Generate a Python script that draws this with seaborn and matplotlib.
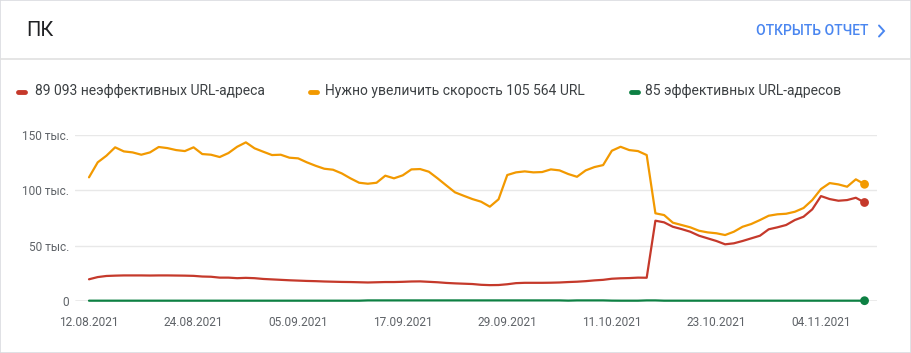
import numpy as np
import pandas as pd
import matplotlib
matplotlib.use("Agg")
import matplotlib.pyplot as plt
import matplotlib.dates as mdates
from matplotlib.lines import Line2D
from matplotlib.patches import Rectangle
import seaborn as sns

# ---------------- data (thousands of URLs) ----------------
start_date = "2021-08-12"
n_days = 90

poor = [19.5, 21.5, 22.5, 22.8, 23.0, 23.0, 23.0, 22.9, 23.0, 23.0,
        22.9, 22.8, 22.6, 22.0, 21.8, 21.0, 21.0, 20.5, 20.8, 20.5,
        19.8, 19.4, 19.0, 18.6, 18.3, 18.0, 17.8, 17.5, 17.3, 17.1,
        17.0, 16.8, 16.6, 16.8, 17.0, 17.0, 17.2, 17.5, 17.6, 17.2,
        16.8, 16.2, 15.8, 15.5, 15.2, 14.5, 14.2, 14.3, 15.0, 16.0,
        16.3, 16.3, 16.3, 16.4, 16.6, 17.0, 17.3, 17.8, 18.5, 19.0,
        20.0, 20.4, 20.6, 21.0, 20.9, 72.6, 71.1, 67.1, 65.0, 62.6,
        59.0, 56.6, 54.2, 51.2, 52.1, 54.2, 56.6, 59.0, 64.8, 66.6,
        68.7, 73.2, 76.2, 82.9, 94.9, 92.2, 90.7, 91.3, 93.4, 89.1]

needs_improvement = [111.9, 125.5, 131.5, 139.1, 135.4, 134.5, 132.4, 134.5, 139.4, 138.4,
                     136.6, 135.7, 139.1, 133.0, 132.4, 130.3, 133.9, 139.6, 143.6, 138.2,
                     135.1, 132.1, 132.4, 129.7, 129.1, 125.5, 122.4, 119.7, 118.8, 115.5,
                     111.0, 107.0, 106.1, 107.0, 113.4, 111.0, 113.7, 119.1, 119.4, 117.0,
                     111.0, 104.6, 98.3, 95.2, 92.2, 89.8, 85.3, 92.0, 114.0, 116.4,
                     117.3, 116.4, 116.7, 119.1, 118.2, 114.9, 112.4, 118.2, 121.2, 123.0,
                     136.0, 139.6, 136.6, 135.7, 132.1, 79.3, 77.7, 70.8, 68.7, 66.6,
                     63.5, 62.0, 61.2, 59.6, 62.6, 67.1, 69.6, 73.2, 77.1, 78.4,
                     78.9, 80.7, 84.1, 91.3, 101.3, 106.7, 105.5, 103.4, 110.1, 105.6]

good = [0.1, 0.1, 0.1, 0.1, 0.1, 0.1, 0.1, 0.1, 0.1, 0.1,
        0.1, 0.1, 0.1, 0.1, 0.1, 0.1, 0.1, 0.1, 0.1, 0.1,
        0.1, 0.1, 0.1, 0.1, 0.1, 0.1, 0.1, 0.1, 0.1, 0.1,
        0.1, 0.1, 0.35, 0.35, 0.35, 0.35, 0.35, 0.35, 0.35, 0.35,
        0.35, 0.35, 0.35, 0.35, 0.35, 0.35, 0.35, 0.35, 0.35, 0.35,
        0.35, 0.35, 0.35, 0.35, 0.35, 0.15, 0.35, 0.35, 0.35, 0.35,
        0.15, 0.1, 0.1, 0.1, 0.35, 0.35, 0.1, 0.1, 0.1, 0.1,
        0.1, 0.1, 0.1, 0.1, 0.1, 0.1, 0.1, 0.1, 0.1, 0.1,
        0.1, 0.1, 0.1, 0.1, 0.1, 0.1, 0.1, 0.1, 0.1, 0.085]

series_names = ["89 093 неэффективных URL-адреса",
                "Нужно увеличить скорость 105 564 URL",
                "85 эффективных URL-адресов"]
series_colors = ["#c5392b", "#f29900", "#0d8043"]

y_ticks = [0, 50, 100, 150]
y_tick_labels = ["0", "50 тыс.", "100 тыс.", "150 тыс."]
x_tick_dates = ["2021-08-12", "2021-08-24", "2021-09-05", "2021-09-17",
                "2021-09-29", "2021-10-11", "2021-10-23", "2021-11-04"]

title_text = "ПК"
link_text = "ОТКРЫТЬ ОТЧЕТ"

# ---------------- build frame ----------------
dates = pd.date_range(start_date, periods=n_days, freq="D")
df = pd.concat([
    pd.DataFrame({"date": dates, "value": poor, "series": series_names[0]}),
    pd.DataFrame({"date": dates, "value": needs_improvement, "series": series_names[1]}),
    pd.DataFrame({"date": dates, "value": good, "series": series_names[2]}),
], ignore_index=True)
palette = dict(zip(series_names, series_colors))

# ---------------- style ----------------
sns.set_theme(style="white")
plt.rcParams["font.family"] = ["Roboto", "DejaVu Sans"]

W, H = 912, 353
fig = plt.figure(figsize=(W / 100, H / 100), dpi=100)

def fx(px):
    return px / W

def fy(py):
    return 1 - py / H

ax_left, ax_right, ax_top, ax_bottom = 75, 877, 135.3, 300.8
ax = fig.add_axes([fx(ax_left), fy(ax_bottom), fx(ax_right - ax_left), (ax_bottom - ax_top) / H])

sns.lineplot(data=df, x="date", y="value", hue="series", palette=palette,
             hue_order=series_names[::-1], linewidth=1.6, ax=ax, legend=False,
             clip_on=False)
last = df[df["date"] == dates[-1]]
sns.scatterplot(data=last, x="date", y="value", hue="series", palette=palette,
                s=40, edgecolor="none", ax=ax, legend=False, clip_on=False, zorder=5)

px_per_day = 8.714
x0 = dates[0] - pd.Timedelta(days=(89 - ax_left) / px_per_day)
x1 = dates[0] + pd.Timedelta(days=(ax_right - 89) / px_per_day)
ax.set_xlim(x0, x1)
ax.set_ylim(0, 150)

ax.set_yticks(y_ticks)
ax.set_yticklabels(y_tick_labels)
ax.set_xticks(pd.to_datetime(x_tick_dates))
ax.xaxis.set_major_formatter(mdates.DateFormatter("%d.%m.%Y"))
ax.tick_params(axis="both", length=0, labelsize=8.6, labelcolor="#5f6368")
ax.tick_params(axis="y", pad=4)
ax.tick_params(axis="x", pad=11)
ax.set_xlabel("")
ax.set_ylabel("")

for s in ax.spines.values():
    s.set_visible(False)
ax.grid(False)
for t in y_ticks[1:]:
    ax.axhline(t, color="#e8e8e8", lw=1, zorder=0)
ax.axhline(0, color="#9e9e9e", lw=1, zorder=0)

# ---------------- header & legend ----------------
fig.text(fx(26), fy(30), title_text, fontsize=14.5, color="#202124", va="center", ha="left")
fig.text(fx(868), fy(31), link_text, fontsize=10, color="#4a86f0", va="center",
         ha="right", fontweight="medium")
fig.add_artist(Line2D([fx(879), fx(884), fx(879)], [fy(25.5), fy(31), fy(36.5)],
                      color="#4a86f0", lw=1.4, solid_capstyle="round",
                      solid_joinstyle="miter", transform=fig.transFigure))
fig.add_artist(Line2D([0, 1], [fy(59), fy(59)], color="#e0e0e0", lw=1.2,
                      transform=fig.transFigure))
fig.add_artist(Rectangle((fx(0.5), 0), fx(W - 1), 1, fill=False, edgecolor="#dadce0",
                         lw=1.2, transform=fig.transFigure))

legend_x = [(18, 35), (310, 325), (631, 645)]
for (mx, tx), name, col in zip(legend_x, series_names, series_colors):
    fig.add_artist(Line2D([fx(mx), fx(mx + 7)], [fy(92), fy(92)], color=col, lw=3.5,
                          solid_capstyle="round", transform=fig.transFigure))
    fig.text(fx(tx), fy(91.5), name, fontsize=10, color="#3c4043", va="center", ha="left")

fig.savefig("out.png", dpi=100)
